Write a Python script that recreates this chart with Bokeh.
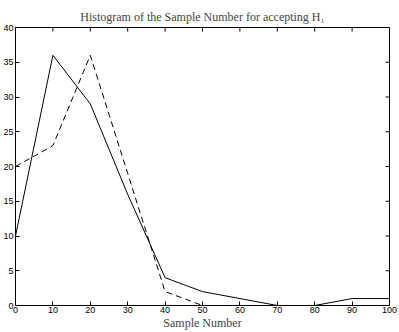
import math
from bokeh.plotting import figure
from bokeh.models import FixedTicker, Range1d
from bokeh.embed import file_html
from bokeh.resources import INLINE

sample_number = [0, 10, 20, 30, 40, 50, 60, 70, 80, 90, 100]
solid_counts = [10, 36, 29, 16, 4, 2, 1, 0, 0, 1, 1]
dashed_x = [0, 10, 20, 30, 40, 50]
dashed_counts = [20, 23, 36, 19, 2, 0]
x_ticks = [0, 10, 20, 30, 40, 50, 60, 70, 80, 90, 100]
y_ticks = [0, 5, 10, 15, 20, 25, 30, 35, 40]
x_lim = (0, 100)
y_lim = (0, 40)
title_text = "Histogram of the Sample Number for accepting H\u2081"

p = figure(width=399, height=332, output_backend="svg", toolbar_location=None,
           x_range=Range1d(*x_lim), y_range=Range1d(*y_lim),
           min_border_left=0, min_border_right=10, min_border_top=27, min_border_bottom=0,
           title=title_text)
p.background_fill_color = "white"
p.border_fill_color = "white"
p.outline_line_color = "black"
p.outline_line_width = 1
p.grid.visible = False

p.title.text_font = "Liberation Serif"
p.title.text_font_size = "12px"
p.title.text_font_style = "normal"
p.title.align = "center"
p.title.offset = 0
p.title.standoff = 7

for ax in p.xaxis + p.yaxis:
    ax.major_label_text_font = "Liberation Sans"
    ax.major_label_text_font_size = "9px"
    ax.major_label_text_color = "black"
    ax.major_tick_in = 4
    ax.major_tick_out = 0
    ax.minor_tick_line_color = None
    ax.major_label_standoff = 2
    ax.axis_line_color = "black"

p.xaxis.ticker = FixedTicker(ticks=x_ticks)
p.yaxis.ticker = FixedTicker(ticks=y_ticks)
p.xaxis.major_label_standoff = 1
p.xaxis.axis_label = "Sample Number"
p.xaxis.axis_label_text_font = "Liberation Serif"
p.xaxis.axis_label_text_font_size = "12px"
p.xaxis.axis_label_text_font_style = "normal"
p.xaxis.axis_label_standoff = 0

# inward ticks on the top and right edges of the box (clipped to the frame)
p.scatter(x_ticks, [y_lim[1]] * len(x_ticks), marker="dash", angle=math.pi / 2,
          size=8, line_color="black", line_width=1)
p.scatter([x_lim[1]] * len(y_ticks), y_ticks, marker="dash",
          size=8, line_color="black", line_width=1)

p.line(sample_number, solid_counts, line_color="black", line_width=1)
p.line(dashed_x, dashed_counts, line_color="black", line_width=1, line_dash="6 4")

open("out.html", "w").write(file_html(p, INLINE))
